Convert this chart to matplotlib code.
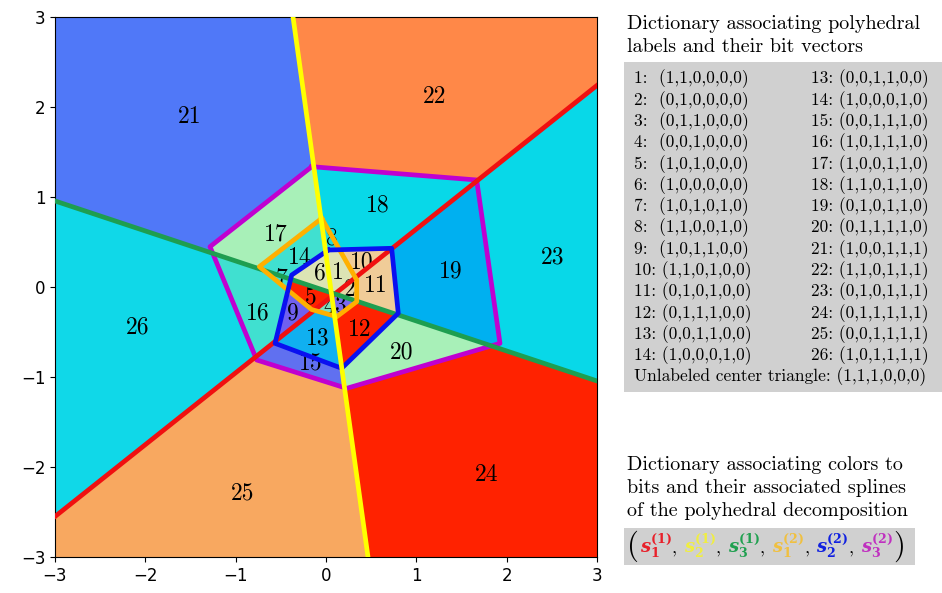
import numpy as np
import matplotlib
matplotlib.use('Agg')
import matplotlib.pyplot as plt
from matplotlib.path import Path
from matplotlib.colors import to_rgb
from matplotlib.patches import Rectangle
from matplotlib.offsetbox import TextArea, HPacker, AnchoredOffsetbox

# ---- layer 1: three straight hyperplanes (two end points each) ----
red_line = ([-3, 3], [-2.55, 2.24])
yellow_line = ([-0.365, 0.465], [3, -3])
green_line = ([-3, 3], [0.956, -1.044])

# ---- layer 2: bent hyperplanes (closed polygons) ----
orange_x = [-0.047, 0.34, 0.34, 0.119, -0.16, -0.738]
orange_y = [0.763, 0.078, -0.163, -0.33, -0.25, 0.226]
blue_x = [0.026, 0.727, 0.80, 0.174, -0.564, -0.38]
blue_y = [0.411, 0.43, -0.292, -0.903, -0.626, 0.133]
purple_x = [-0.158, 1.668, 1.926, 0.229, -0.767, -1.284]
purple_y = [1.337, 1.189, -0.626, -1.126, -0.811, 0.448]

# ---- polyhedral labels and bit vectors ----
labels = list(range(1, 27))
bit_vectors = [
    (1, 1, 0, 0, 0, 0), (0, 1, 0, 0, 0, 0), (0, 1, 1, 0, 0, 0), (0, 0, 1, 0, 0, 0),
    (1, 0, 1, 0, 0, 0), (1, 0, 0, 0, 0, 0), (1, 0, 1, 0, 1, 0), (1, 1, 0, 0, 1, 0),
    (1, 0, 1, 1, 0, 0), (1, 1, 0, 1, 0, 0), (0, 1, 0, 1, 0, 0), (0, 1, 1, 1, 0, 0),
    (0, 0, 1, 1, 0, 0), (1, 0, 0, 0, 1, 0), (0, 0, 1, 1, 1, 0), (1, 0, 1, 1, 1, 0),
    (1, 0, 0, 1, 1, 0), (1, 1, 0, 1, 1, 0), (0, 1, 0, 1, 1, 0), (0, 1, 1, 1, 1, 0),
    (1, 0, 0, 1, 1, 1), (1, 1, 0, 1, 1, 1), (0, 1, 0, 1, 1, 1), (0, 1, 1, 1, 1, 1),
    (0, 0, 1, 1, 1, 1), (1, 0, 1, 1, 1, 1),
]
center_bits = (1, 1, 1, 0, 0, 0)
region_colors = [
    '#DCE4B4', '#E6D8A8', '#7B68EE', '#7FE0C0', '#FF2200', '#DCE4B4', '#40E0D0',
    '#20D8E0', '#7060F0', '#F0CC98', '#F0CC98', '#FF2200', '#10B0F0', '#40E0D0',
    '#6070F0', '#40E0D0', '#A8F0B8', '#08D8E8', '#00B0F0', '#A8F0B8', '#5078F8',
    '#FF8848', '#08D8E8', '#FF2200', '#F8A860', '#10D8E8',
]
center_color = '#9370DB'

# label positions
label_x = [0.133, 0.266, 0.17, 0.04, -0.166, -0.066, -0.49, 0.063, -0.365, 0.399,
           0.554, 0.376, -0.088, -0.288, -0.166, -0.753, -0.553, 0.576, 1.384, 0.841,
           -1.505, 1.207, 2.513, 1.783, -0.919, -2.081]
label_y = [0.156, -0.033, -0.2, -0.22, -0.122, 0.156, 0.097, 0.541, -0.289, 0.278,
           0.011, -0.478, -0.567, 0.322, -0.844, -0.289, 0.589, 0.911, 0.178, -0.722,
           1.889, 2.111, 0.333, -2.089, -2.289, -0.444]

line_colors = {'red': '#F01010', 'yellow': '#FFFF00', 'green': '#1E9E50',
               'orange': '#FFB000', 'blue': '#0A10F0', 'purple': '#C000D0'}


def cross(px, py, line):
    (x0, x1), (y0, y1) = line
    return (x1 - x0) * (py - y0) - (y1 - y0) * (px - x0)


# evaluate the activation pattern on a grid
n = 1400
g = np.linspace(-3, 3, n)
gx, gy = np.meshgrid(g, g)
pts = np.column_stack([gx.ravel(), gy.ravel()])
bits = np.zeros((pts.shape[0], 6), dtype=int)
bits[:, 0] = cross(pts[:, 0], pts[:, 1], red_line) > 0
bits[:, 1] = cross(pts[:, 0], pts[:, 1], yellow_line) > 0
bits[:, 2] = cross(pts[:, 0], pts[:, 1], green_line) < 0
for k, (px, py) in enumerate([(orange_x, orange_y), (blue_x, blue_y), (purple_x, purple_y)]):
    bits[:, 3 + k] = ~Path(np.column_stack([px, py])).contains_points(pts)

all_bits = np.array(bit_vectors + [center_bits])
all_cols = np.array([to_rgb(c) for c in region_colors + [center_color]])
dist = np.abs(bits[:, None, :] - all_bits[None, :, :]).sum(axis=2)
img = all_cols[dist.argmin(axis=1)].reshape(n, n, 3)

plt.rcParams['font.size'] = 12
fig = plt.figure(figsize=(9.42, 5.93), dpi=100)
ax = fig.add_axes([55 / 942, 1 - 557 / 593, 542 / 942, 540 / 593])
ax.imshow(img, extent=[-3, 3, -3, 3], origin='lower', interpolation='nearest', aspect='auto')

for lab, x, y in zip(labels, label_x, label_y):
    ax.text(x, y, str(lab), ha='center', va='center', family='cmr10', fontsize=17, zorder=2)

lw = 3.4
ax.plot(purple_x + purple_x[:1], purple_y + purple_y[:1], color=line_colors['purple'], lw=lw, zorder=3)
ax.plot(*red_line, color=line_colors['red'], lw=lw, zorder=3)
ax.plot(*green_line, color=line_colors['green'], lw=lw, zorder=3)
ax.plot(orange_x + orange_x[:1], orange_y + orange_y[:1], color=line_colors['orange'], lw=lw, zorder=3)
ax.plot(blue_x + blue_x[:1], blue_y + blue_y[:1], color=line_colors['blue'], lw=lw, zorder=3)
ax.plot(*yellow_line, color=line_colors['yellow'], lw=lw, zorder=3)

ax.set_xlim(-3, 3)
ax.set_ylim(-3, 3)
ax.set_xticks(range(-3, 4))
ax.set_yticks(range(-3, 4))

# ---- right side: dictionary of labels ----
W, H = 942, 593
fig.text(627 / W, 1 - 24 / H, 'Dictionary associating polyhedral', family='cmr10', fontsize=14.5, va='center')
fig.text(627 / W, 1 - 47 / H, 'labels and their bit vectors', family='cmr10', fontsize=14.5, va='center')
fig.patches.append(Rectangle((624 / W, 1 - 392 / H), (W - 624) / W, 330 / H,
                             transform=fig.transFigure, facecolor='#D0D0D0', edgecolor='none'))


def fmt(lab, b):
    sep = ':  ' if lab < 10 else ': '
    return str(lab) + sep + '(' + ','.join(str(v) for v in b) + ')'


for i in range(14):
    y = 1 - (79 + 21.3 * i) / H
    fig.text(634 / W, y, fmt(labels[i], bit_vectors[i]), family='cmr10', fontsize=12.5, va='center')
    fig.text(929 / W, y, fmt(labels[i + 12], bit_vectors[i + 12]), family='cmr10', fontsize=12.5,
             va='center', ha='right')
fig.text(634 / W, 1 - 377 / H, 'Unlabeled center triangle: (' + ','.join(str(v) for v in center_bits) + ')',
         family='cmr10', fontsize=12.5, va='center')

# ---- right side: colors of splines ----
fig.text(627 / W, 1 - 465 / H, 'Dictionary associating colors to', family='cmr10', fontsize=14.5, va='center')
fig.text(627 / W, 1 - 488 / H, 'bits and their associated splines', family='cmr10', fontsize=14.5, va='center')
fig.text(627 / W, 1 - 511 / H, 'of the polyhedral decomposition', family='cmr10', fontsize=14.5, va='center')
fig.patches.append(Rectangle((624 / W, 1 - 565 / H), 291 / W, 37 / H,
                             transform=fig.transFigure, facecolor='#D0D0D0', edgecolor='none'))

spline_names = [('1', '1'), ('2', '1'), ('3', '1'), ('1', '2'), ('2', '2'), ('3', '2')]
spline_colors = ['#E8202A', '#F0EE40', '#20A050', '#F0C040', '#1020E0', '#C030C0']
parts = [TextArea('(', textprops=dict(family='cmr10', fontsize=22))]
for i, ((sub, sup), c) in enumerate(zip(spline_names, spline_colors)):
    s = r'$\mathbfit{s}_{\mathbf{%s}}^{\mathbf{(%s)}}$' % (sub, sup)
    parts.append(TextArea(s, textprops=dict(color=c, fontsize=13, math_fontfamily='dejavuserif')))
    if i < 5:
        parts.append(TextArea(', ', textprops=dict(family='cmr10', fontsize=13)))
parts.append(TextArea(')', textprops=dict(family='cmr10', fontsize=22)))
box = HPacker(children=parts, align='baseline', pad=0, sep=0.5)
anch = AnchoredOffsetbox(loc='center left', child=box, pad=0, borderpad=0, frameon=False,
                         bbox_to_anchor=(627 / W, 1 - 546 / H), bbox_transform=fig.transFigure)
fig.add_artist(anch)

fig.savefig('out.png', dpi=100)
